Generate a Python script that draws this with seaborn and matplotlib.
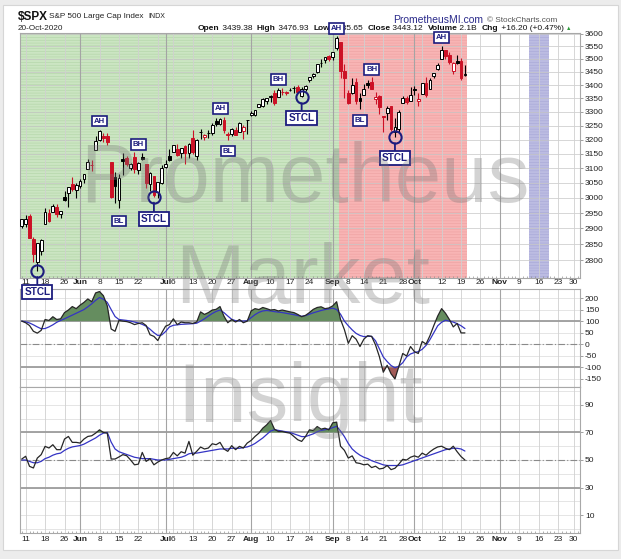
import numpy as np
import pandas as pd
import matplotlib
matplotlib.use("Agg")
import matplotlib.pyplot as plt
import seaborn as sns
from matplotlib.patches import Rectangle
from matplotlib.ticker import NullLocator

# ---------------- data (S&P 500 daily, 8 May - 20 Oct 2020) ----------------
first_date = "2020-05-08"
prev_close0 = 2881.19
open_ = [2908.83,
         2915.46, 2939.50, 2865.86, 2794.54, 2829.95,
         2913.86, 2948.59, 2953.63, 2969.95, 2948.05,
         3004.08, 3015.65, 3046.61, 3025.17,
         3038.78, 3064.78, 3098.90, 3111.56, 3163.84,
         3199.92, 3213.32, 3213.42, 3123.53, 3071.04,
         2993.76, 3131.00, 3136.13, 3101.64, 3140.29,
         3094.42, 3138.70, 3114.40, 3046.60, 3073.20,
         3018.59, 3050.20, 3105.92, 3143.64,
         3155.29, 3166.44, 3153.07, 3176.17, 3152.47,
         3205.08, 3141.11, 3225.98, 3208.36, 3224.21,
         3224.29, 3268.52, 3254.86, 3271.64, 3218.58,
         3219.84, 3234.27, 3227.22, 3231.76, 3270.45,
         3288.26, 3289.92, 3317.37, 3323.17, 3340.05,
         3356.04, 3370.34, 3355.46, 3372.95, 3368.66,
         3380.86, 3387.04, 3392.51, 3360.48, 3386.01,
         3418.09, 3435.95, 3449.97, 3485.14, 3494.69,
         3509.73, 3507.44, 3543.76, 3564.74, 3453.60,
         3371.88, 3369.82, 3412.56, 3352.70,
         3363.56, 3407.73, 3411.23, 3346.86, 3357.38,
         3285.57, 3295.75, 3320.11, 3226.14, 3236.66,
         3333.90, 3350.92, 3341.21, 3385.87, 3338.94,
         3367.27, 3408.74, 3384.56, 3434.28, 3459.67,
         3500.02, 3534.01, 3515.47, 3453.72, 3493.50,
         3493.66, 3439.38]
high_ = [2932.16,
         2944.25, 2945.82, 2874.14, 2852.80, 2865.01,
         2968.09, 2964.21, 2980.29, 2978.50, 2956.76,
         3021.72, 3036.25, 3068.67, 3049.17,
         3062.18, 3081.07, 3130.94, 3128.91, 3211.72,
         3233.13, 3222.71, 3223.27, 3123.53, 3088.42,
         3079.76, 3153.45, 3141.16, 3120.00, 3155.53,
         3120.92, 3154.90, 3115.01, 3086.25, 3073.73,
         3053.89, 3111.51, 3128.44, 3165.81,
         3182.59, 3184.15, 3171.80, 3179.78, 3186.82,
         3235.32, 3200.95, 3238.28, 3220.39, 3233.52,
         3258.61, 3277.29, 3279.32, 3279.99, 3227.26,
         3241.43, 3243.72, 3264.74, 3250.92, 3272.17,
         3302.73, 3306.84, 3330.77, 3351.03, 3352.54,
         3363.29, 3381.01, 3387.89, 3387.24, 3378.51,
         3387.59, 3395.06, 3399.54, 3390.80, 3399.96,
         3432.09, 3444.21, 3481.07, 3501.38, 3509.23,
         3514.77, 3528.03, 3588.11, 3564.85, 3479.15,
         3379.97, 3424.77, 3425.55, 3368.95,
         3402.93, 3419.48, 3428.92, 3375.17, 3362.27,
         3285.57, 3320.31, 3323.35, 3278.70, 3306.88,
         3360.74, 3357.92, 3393.56, 3397.18, 3369.10,
         3409.57, 3431.56, 3426.26, 3447.28, 3482.34,
         3549.85, 3534.01, 3527.94, 3489.08, 3515.76,
         3502.42, 3476.93]
low_ = [2902.88,
        2903.44, 2869.59, 2793.15, 2766.64, 2816.78,
        2913.86, 2922.35, 2953.63, 2938.57, 2933.59,
        2988.17, 2969.75, 3023.40, 2998.61,
        3031.54, 3051.64, 3098.90, 3090.41, 3163.84,
        3196.00, 3193.11, 3181.49, 2999.49, 2984.47,
        2965.66, 3076.06, 3108.03, 3093.51, 3083.11,
        3079.39, 3127.12, 3032.13, 3024.01, 3004.63,
        2999.74, 3047.83, 3101.17, 3124.52,
        3155.29, 3142.93, 3136.53, 3115.70, 3136.22,
        3149.43, 3127.66, 3200.76, 3198.59, 3205.65,
        3215.16, 3247.77, 3253.10, 3222.66, 3200.05,
        3214.25, 3216.17, 3227.22, 3204.13, 3220.26,
        3284.53, 3286.37, 3317.37, 3318.14, 3328.72,
        3335.44, 3326.44, 3355.46, 3363.35, 3361.64,
        3379.22, 3370.15, 3369.66, 3354.69, 3379.31,
        3413.13, 3425.84, 3444.15, 3468.35, 3484.32,
        3493.25, 3494.60, 3535.23, 3427.41, 3349.63,
        3329.27, 3366.84, 3329.25, 3310.47,
        3363.56, 3389.25, 3384.45, 3328.82, 3292.40,
        3229.10, 3270.95, 3232.57, 3209.45, 3228.44,
        3332.91, 3327.54, 3340.47, 3361.39, 3323.69,
        3367.27, 3354.54, 3384.56, 3428.15, 3458.07,
        3499.61, 3500.86, 3480.55, 3440.89, 3480.45,
        3419.93, 3435.65]
close_ = [2929.80,
          2930.32, 2870.12, 2820.00, 2852.50, 2863.70,
          2953.91, 2922.94, 2971.61, 2948.51, 2955.45,
          2991.77, 3036.13, 3029.73, 3044.31,
          3055.73, 3080.82, 3122.87, 3112.35, 3193.93,
          3232.39, 3207.18, 3190.14, 3002.10, 3041.31,
          3066.59, 3124.74, 3113.49, 3115.34, 3097.74,
          3117.86, 3131.29, 3050.33, 3083.76, 3009.05,
          3053.24, 3100.29, 3115.86, 3130.01,
          3179.72, 3145.32, 3169.94, 3152.05, 3185.04,
          3155.22, 3197.52, 3226.56, 3215.57, 3224.73,
          3251.84, 3257.30, 3276.02, 3235.66, 3215.63,
          3239.41, 3218.44, 3258.44, 3246.22, 3271.12,
          3294.61, 3306.51, 3327.77, 3349.16, 3351.28,
          3360.47, 3333.69, 3380.35, 3373.43, 3372.85,
          3381.99, 3389.78, 3374.85, 3385.51, 3397.16,
          3431.28, 3443.62, 3478.73, 3484.55, 3508.01,
          3500.31, 3526.65, 3580.84, 3455.06, 3426.96,
          3331.84, 3398.96, 3339.19, 3340.97,
          3383.54, 3401.20, 3385.49, 3357.01, 3319.47,
          3281.06, 3315.57, 3236.92, 3246.59, 3298.46,
          3351.60, 3335.47, 3363.00, 3380.80, 3348.42,
          3408.60, 3360.97, 3419.44, 3446.83, 3477.14,
          3534.22, 3511.93, 3488.67, 3483.34, 3483.81,
          3426.92, 3443.12]

cci_vals = [100, 93, 81, 56, 48, 60, 107, 103, 119, 107,
            110, 137, 148, 163, 154, 169, 181, 196, 184, 222,
            228, 210, 166, 66, 56, 103, 100, 98, 93, 85,
            90, 93, 81, 41, 34, 16, 49, 78, 85, 110,
            85, 96, 93, 93, 90, 96, 140, 129, 137, 148,
            151, 163, 122, 93, 107, 96, 107, 93, 100, 144,
            154, 150, 159, 154, 148, 150, 144, 148, 144, 140,
            137, 129, 119, 125, 137, 151, 159, 162, 154, 157,
            166, 184, 107, 63, 4, 37, 22, -10, 22, 37,
            34, -3, -54, -121, -91, -128, -150, -96, -40, -51,
            -10, -32, -40, 12, 1, 37, 81, 122, 154, 134,
            107, 75, 90, 49, 49]
cci_signal = [100, 97, 92, 84, 75, 67, 68, 75, 84, 95,
              103, 110, 118, 126, 134, 142, 150, 162, 175, 190,
              202, 195, 181, 150, 120, 107, 105, 103, 100, 96,
              92, 86, 78, 65, 50, 38, 40, 55, 75, 82,
              84, 86, 87, 88, 89, 91, 100, 110, 122, 133,
              142, 148, 137, 122, 108, 102, 101, 100, 102, 115,
              128, 138, 144, 146, 144, 141, 139, 137, 134, 131,
              128, 124, 121, 124, 130, 136, 141, 146, 150, 153,
              156, 150, 130, 100, 80, 62, 47, 38, 33, 34,
              34, 15, -20, -55, -75, -92, -102, -95, -80, -55,
              -42, -36, -32, -22, -5, 20, 50, 80, 95, 104,
              100, 96, 89, 80, 68]
rsi_vals = [50.7, 52.7, 45.4, 44.2, 51.4, 53.9, 59.9, 58.7, 61.1, 57.5,
            57.5, 65.2, 67.1, 62.8, 62.8, 62.3, 65.2, 67.1, 67.6, 69.5,
            71.9, 70.0, 69.5, 50.7, 50.7, 52.2, 53.9, 53.1, 50.0, 46.5,
            47.0, 55.5, 49.0, 51.0, 46.5, 48.5, 50.0, 51.0, 51.5, 55.5,
            53.0, 56.0, 55.0, 63.5, 53.5, 56.3, 59.4, 58.0, 58.7, 61.8,
            61.1, 62.8, 58.0, 56.3, 60.4, 57.5, 59.9, 58.7, 62.3, 64.2,
            67.1, 69.5, 73.1, 75.5, 78.7, 72.4, 70.7, 70.7, 70.0, 69.5,
            67.1, 64.7, 63.5, 67.1, 71.9, 71.4, 74.3, 72.4, 73.1, 71.9,
            77.0, 77.5, 60.0, 57.0, 51.4, 53.0, 48.0, 47.5, 46.5, 47.0,
            44.5, 45.5, 43.5, 44.0, 46.0, 43.0, 44.0, 47.0, 50.5, 50.0,
            52.0, 53.0, 52.0, 55.0, 53.5, 56.0, 58.0, 59.5, 60.0, 58.5,
            57.5, 60.0, 56.0, 52.5, 50.0]
rsi_signal = [50, 50, 49, 48, 48, 49, 51, 52, 53.5, 54.5,
              55, 57, 58.5, 59.5, 60, 60.5, 61.5, 63, 64.5, 66,
              68, 69.5, 70, 63, 58, 56, 55, 54, 53, 52,
              51.5, 51, 51, 51, 50.5, 50, 50, 50, 50.5, 51,
              51.5, 52, 53, 54.5, 55, 55, 55.5, 56, 56.5, 57,
              57.5, 58, 58, 58, 58.5, 58.5, 58.5, 59, 59.5, 60.5,
              62, 64, 66, 68.5, 71, 72, 71.5, 71, 70.5, 70,
              69, 68, 67, 67, 68, 69, 70.5, 71.5, 72, 72.5,
              73.5, 74.5, 71, 67, 62, 58, 55.5, 53.5, 52, 51,
              49.5, 48.5, 47.5, 46.5, 46, 46, 46, 46, 46.5, 47.5,
              48.5, 49.5, 50.5, 51.5, 52.5, 53.5, 54.5, 55.5, 56.5, 57.5,
              58, 58.5, 58.5, 58, 56.5]

# signal annotations
sig_labels = ["STCL", "AH", "BL", "BH", "STCL", "AH", "BL", "BH", "STCL",
              "AH", "BL", "BH", "STCL", "AH"]
sig_dates = ["2020-05-14", "2020-06-08", "2020-06-15", "2020-06-22", "2020-06-26",
             "2020-07-22", "2020-07-24", "2020-08-12", "2020-08-20", "2020-09-02",
             "2020-09-11", "2020-09-16", "2020-09-24", "2020-10-12"]
sig_box_price = [2703, 3267, 2924, 3184, 2930, 3314, 3160, 3422, 3277,
                 3621, 3270, 3460, 3135, 3585]

# shading periods
shade_start = ["2020-05-08", "2020-09-03", "2020-11-12"]
shade_end = ["2020-09-02", "2020-10-20", "2020-11-18"]
shade_face = ["#cbe5c2", "#f8b4b4", "#bcbce2"]
shade_hatch = ["#b4d6a9", "#eea3a3", "#a9a9d8"]

# axis labels
tick_dates = ["2020-05-11", "2020-05-18", "2020-05-26", "2020-06-01", "2020-06-08",
              "2020-06-15", "2020-06-22", "2020-07-01", "2020-07-06", "2020-07-13",
              "2020-07-20", "2020-07-27", "2020-08-03", "2020-08-10", "2020-08-17",
              "2020-08-24", "2020-09-01", "2020-09-08", "2020-09-14", "2020-09-21",
              "2020-09-28", "2020-10-01", "2020-10-12", "2020-10-19", "2020-10-26",
              "2020-11-02", "2020-11-09", "2020-11-16", "2020-11-23", "2020-11-30"]
tick_labels = ["11", "18", "26", "Jun", "8", "15", "22", "Jul", "6", "13", "20", "27",
               "Aug", "10", "17", "24", "Sep", "8", "14", "21", "28", "Oct", "12", "19",
               "26", "Nov", "9", "16", "23", "30"]
month_names = ["Jun", "Jul", "Aug", "Sep", "Oct", "Nov"]
week_grid = ["2020-05-11", "2020-05-18", "2020-05-26", "2020-06-08", "2020-06-15",
             "2020-06-22", "2020-06-29", "2020-07-06", "2020-07-13", "2020-07-20",
             "2020-07-27", "2020-08-10", "2020-08-17", "2020-08-24", "2020-08-31",
             "2020-09-08", "2020-09-14", "2020-09-21", "2020-09-28", "2020-10-05",
             "2020-10-12", "2020-10-19", "2020-10-26", "2020-11-09", "2020-11-16",
             "2020-11-23", "2020-11-30"]
month_grid = ["2020-06-01", "2020-07-01", "2020-08-03", "2020-09-01", "2020-10-01",
              "2020-11-02"]
price_ticks = list(range(2800, 3601, 50))
cci_ticks = [-150, -100, -50, 0, 50, 100, 150, 200]
rsi_ticks = [10, 30, 50, 70, 90]

# ---------------- figure ----------------
sns.set_theme(style="white")
plt.rcParams["font.family"] = ["Liberation Sans", "DejaVu Sans"]
plt.rcParams["hatch.linewidth"] = 0.45

W, H = 621, 559
fig = plt.figure(figsize=(W / 100, H / 100), dpi=100)
fig.patch.set_facecolor("#ececec")


def fx(p):
    return p / W


def fy(p):
    return 1 - p / H


fig.add_artist(Rectangle((fx(3), fy(550)), 615 / W, 545 / H, transform=fig.transFigure,
                         facecolor="white", edgecolor="#d6d6d6", lw=0.8, zorder=-1))

holidays = pd.to_datetime(["2020-05-25", "2020-07-03", "2020-09-07", "2020-11-26"])
days = pd.bdate_range(first_date, "2020-12-02")
days = days[~days.isin(holidays)]
pos = {d.strftime("%Y-%m-%d"): i for i, d in enumerate(days)}
XL = (-0.45, 143.6)
NAVY = "#1c1c7e"

o = np.array(open_)
h = np.array(high_)
lo = np.array(low_)
c = np.array(close_)
n = len(c)
xi = np.arange(n)
prev = np.concatenate([[prev_close0], c[:-1]])


def vgrid(a):
    for d in week_grid:
        a.axvline(pos[d], color="#d0d0d0", lw=0.6, zorder=1)
    for d in month_grid:
        a.axvline(pos[d], color="#a4a4a4", lw=0.8, zorder=1)


def base_style(a, ticks):
    a.set_xlim(*XL)
    a.yaxis.tick_right()
    a.set_yticks(ticks)
    a.set_yticklabels([str(t) for t in ticks])
    a.yaxis.set_minor_locator(NullLocator())
    a.tick_params(axis="y", which="major", length=2, width=0.6, pad=1.5,
                  labelsize=6, labelcolor="#222222", color="#909090")
    for s in a.spines.values():
        s.set_color("#a8a8a8")
        s.set_linewidth(0.8)
    a.set_xlabel("")
    a.set_ylabel("")


def date_axis(a, pad):
    a.set_xticks([pos[d] for d in tick_dates])
    a.set_xticklabels(tick_labels)
    a.set_xticks(np.arange(0, 144), minor=True)
    a.tick_params(axis="x", which="major", length=0, pad=pad, labelsize=6,
                  labelcolor="#222222")
    a.tick_params(axis="x", which="minor", length=1.5, width=0.5, direction="in",
                  color="#909090", bottom=True)
    for lab in a.get_xticklabels():
        if lab.get_text() in month_names:
            lab.set_fontweight("bold")


# ---- main price panel ----
ax = fig.add_axes([fx(20), fy(278), 560 / W, 245 / H])
ax.set_zorder(5)
ax.set_yscale("log")
ax.set_ylim(2745, 3602)
base_style(ax, price_ticks)
for s0, e0, fc, hc in zip(shade_start, shade_end, shade_face, shade_hatch):
    ax.axvspan(pos[s0] - 0.5, pos[e0] + 0.5, facecolor=fc, edgecolor=hc, lw=0,
               hatch="------", zorder=0)
for t in price_ticks:
    ax.axhline(t, color="#c6c6c6", lw=0.5, zorder=1)
vgrid(ax)
date_axis(ax, 0.8)

col = np.where(c >= prev, "#000000", "#cc1126")
filled = c < o
face = [cc if f else "white" for cc, f in zip(col, filled)]
ax.vlines(xi, lo, h, colors=col, lw=0.8, zorder=3)
body_lo = np.minimum(o, c)
body_h = np.maximum(np.abs(c - o), 0.9)
ax.bar(xi, body_h, bottom=body_lo, width=0.72, color=face, edgecolor=col,
       linewidth=0.7, zorder=4)

for lab, d, bp in zip(sig_labels, sig_dates, sig_box_price):
    i = pos[d]
    if lab == "STCL":
        ax.plot([i], [lo[i]], marker="o", ms=8.8, mfc="none", mec=NAVY, mew=1.5,
                zorder=6, clip_on=False)
        ax.annotate(lab, xy=(i, lo[i]), xytext=(i, bp), ha="center", va="center",
                    fontsize=7.2, fontweight="bold", color=NAVY, zorder=8,
                    annotation_clip=False,
                    bbox=dict(boxstyle="square,pad=0.22", fc="white", ec=NAVY, lw=1.3),
                    arrowprops=dict(arrowstyle="-", color=NAVY, lw=1.3,
                                    shrinkA=0, shrinkB=4.4))
    else:
        ax.text(i, bp, lab, ha="center", va="center", fontsize=5.6,
                fontweight="bold", color=NAVY, zorder=8, clip_on=False,
                bbox=dict(boxstyle="square,pad=0.25", fc="white", ec=NAVY, lw=1.2))

# ---- CCI panel ----
ax2 = fig.add_axes([fx(20), fy(387), 560 / W, 98 / H])
ax2.set_ylim(-185, 239)
base_style(ax2, cci_ticks)
for t in cci_ticks:
    ax2.axhline(t, color="#dadada", lw=0.5, zorder=1)
vgrid(ax2)
ax2.axhline(100, color="#9c9c9c", lw=1.3, zorder=2)
ax2.axhline(-100, color="#9c9c9c", lw=1.3, zorder=2)
ax2.axhline(0, color="#8a8a8a", lw=0.8, ls=(0, (6, 2, 1, 2)), zorder=2)
cci_a = np.array(cci_vals, dtype=float)
ax2.fill_between(xi, cci_a, 100, where=cci_a > 100, interpolate=True,
                 color="#658d5f", lw=0, zorder=3)
ax2.fill_between(xi, cci_a, -100, where=cci_a < -100, interpolate=True,
                 color="#a25b58", lw=0, zorder=3)
sns.lineplot(x=xi, y=cci_signal, ax=ax2, color="#3434c4", lw=0.9, zorder=4)
sns.lineplot(x=xi, y=cci_vals, ax=ax2, color="#262626", lw=0.9, zorder=5)
base_style(ax2, cci_ticks)
ax2.set_ylim(-185, 239)
ax2.set_xticks([])

# ---- RSI panel ----
ax3 = fig.add_axes([fx(20), fy(533), 560 / W, 146 / H])
ax3.set_ylim(-3, 103)
base_style(ax3, rsi_ticks)
for t in range(0, 101, 10):
    ax3.axhline(t, color="#dadada", lw=0.5, zorder=1)
vgrid(ax3)
ax3.axhline(70, color="#9c9c9c", lw=1.3, zorder=2)
ax3.axhline(30, color="#9c9c9c", lw=1.3, zorder=2)
ax3.axhline(50, color="#8a8a8a", lw=0.8, ls=(0, (6, 2, 1, 2)), zorder=2)
rsi_a = np.array(rsi_vals, dtype=float)
ax3.fill_between(xi, rsi_a, 70, where=rsi_a > 70, interpolate=True,
                 color="#658d5f", lw=0, zorder=3)
sns.lineplot(x=xi, y=rsi_signal, ax=ax3, color="#3434c4", lw=0.9, zorder=4)
sns.lineplot(x=xi, y=rsi_vals, ax=ax3, color="#262626", lw=0.9, zorder=5)
base_style(ax3, rsi_ticks)
ax3.set_ylim(-3, 103)
date_axis(ax3, 2.0)

# ---- header ----
fig.text(fx(18), fy(17), "$SPX", fontsize=8.5, fontweight="bold", va="center",
         color="#111111", parse_math=False, zorder=1)
fig.text(fx(49), fy(17), "S&P 500 Large Cap Index", fontsize=5.9, va="center",
         color="#222222", zorder=1)
fig.text(fx(148), fy(17), "INDX", fontsize=5.0, va="center", color="#222222", zorder=1)
fig.text(fx(18), fy(29), "20-Oct-2020", fontsize=5.9, va="center", color="#222222",
         zorder=1)
fig.text(fx(393), fy(20), "PrometheusMI.com", fontsize=7.5, va="center",
         color="#2a2a8a", zorder=1)
fig.text(fx(487), fy(20), "\u00a9 StockCharts.com", fontsize=5.9, va="center",
         color="#555555", zorder=1)

parts = [("Open", True), (" 3439.38  ", False), ("High", True), (" 3476.93  ", False),
         ("Low", True), (" 3435.65  ", False), ("Close", True), (" 3443.12  ", False),
         ("Volume", True), (" 2.1B  ", False), ("Chg", True),
         (" +16.20 (+0.47%) ", False), ("\u25b2", False)]
renderer = fig.canvas.get_renderer()
xp = 198
for s, b in parts:
    colr = "#2e9b3a" if s == "\u25b2" else "#111111"
    fs = 4.0 if s == "\u25b2" else 6.05
    t = fig.text(fx(xp), fy(29), s, fontsize=fs, fontweight="bold" if b else "normal",
                 va="center", color=colr, zorder=1)
    bb = t.get_window_extent(renderer)
    xp = bb.x1

# ---- watermark ----
for word, cx, by in [("Prometheus", 305, 202), ("Market", 303, 303), ("Insight", 300, 422)]:
    fig.text(fx(cx), fy(by), word, fontsize=60, ha="center", va="baseline",
             color="#777777", alpha=0.32, zorder=10, family="Liberation Sans")

fig.savefig("out.png", dpi=100, facecolor=fig.get_facecolor())
